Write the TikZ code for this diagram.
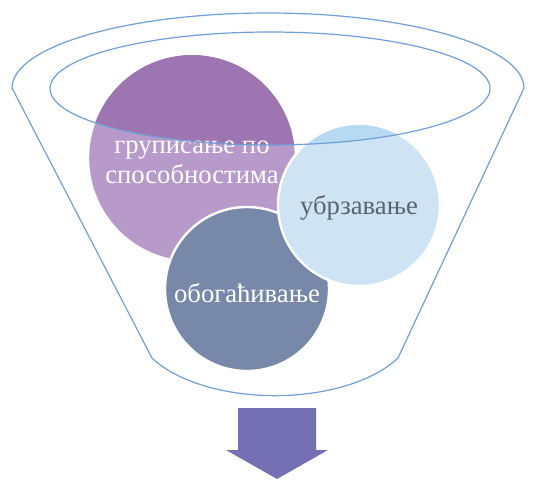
\documentclass[tikz,border=0pt]{standalone}
\usepackage{fontspec}
\setmainfont{Liberation Serif}
\definecolor{grplight}{RGB}{183,154,201}
\definecolor{grpdark}{RGB}{157,117,177}
\definecolor{ubrlight}{RGB}{206,228,245}
\definecolor{ubrdark}{RGB}{183,217,241}
\definecolor{obogfill}{RGB}{119,136,168}
\definecolor{funnelblue}{RGB}{111,159,216}
\definecolor{arrowfill}{RGB}{117,112,179}
\definecolor{ubrtext}{RGB}{90,100,112}
\begin{document}
\begin{tikzpicture}[x=0.75pt,y=0.75pt,yscale=-1]
\tikzset{
  funnelline/.style={draw=funnelblue, line width=0.9},
  ball/.style={circle, inner sep=0pt, draw=white, line width=1.8},
  balltext/.style={inner sep=0.75pt, align=center, font=\rmfamily\fontsize{20}{22.5}\selectfont},
}
\useasboundingbox (0,0) rectangle (538,479);

%Circle: grouping
\node [ball, minimum size=156pt, fill=grplight] (grp) at (192,158) {};
\begin{scope}
\clip (270,88.5) ellipse [x radius=220, y radius=56.5];
\fill [grpdark] (grp.center) circle [radius=103];
\end{scope}
%Circle: enrichment
\node [ball, minimum size=123pt, fill=obogfill] (obog) at (247,289) {};
%Circle: acceleration
\node [ball, minimum size=121.5pt, fill=ubrlight] (ubr) at (359,205) {};
\begin{scope}
\clip (270,88.5) ellipse [x radius=220, y radius=56.5];
\fill [ubrdark] (ubr.center) circle [radius=80];
\end{scope}

% Text Node
\node [balltext, text=white] (grptxt) at (192,162) {груписање по\\способностима};
% Text Node
\node [balltext, text=ubrtext] (ubrtxt) at (359,208) {убрзавање};
% Text Node
\node [balltext, text=white] (obogtxt) at (247,293) {обогаћивање};

%Funnel outline
\draw [funnelline] (12,88) arc [start angle=180, end angle=360, x radius=256, y radius=75] -- (398,358) arc [start angle=28.5, end angle=151.5, x radius=140, y radius=72] -- cycle;
%Funnel rim
\draw [funnelline] (270,88.5) ellipse [x radius=220, y radius=56.5];

%Arrow down
\fill [arrowfill] (238,408) -- (316,408) -- (316,450) -- (328,450) -- (277,479) -- (226,450) -- (238,450) -- cycle;
\end{tikzpicture}
\end{document}
